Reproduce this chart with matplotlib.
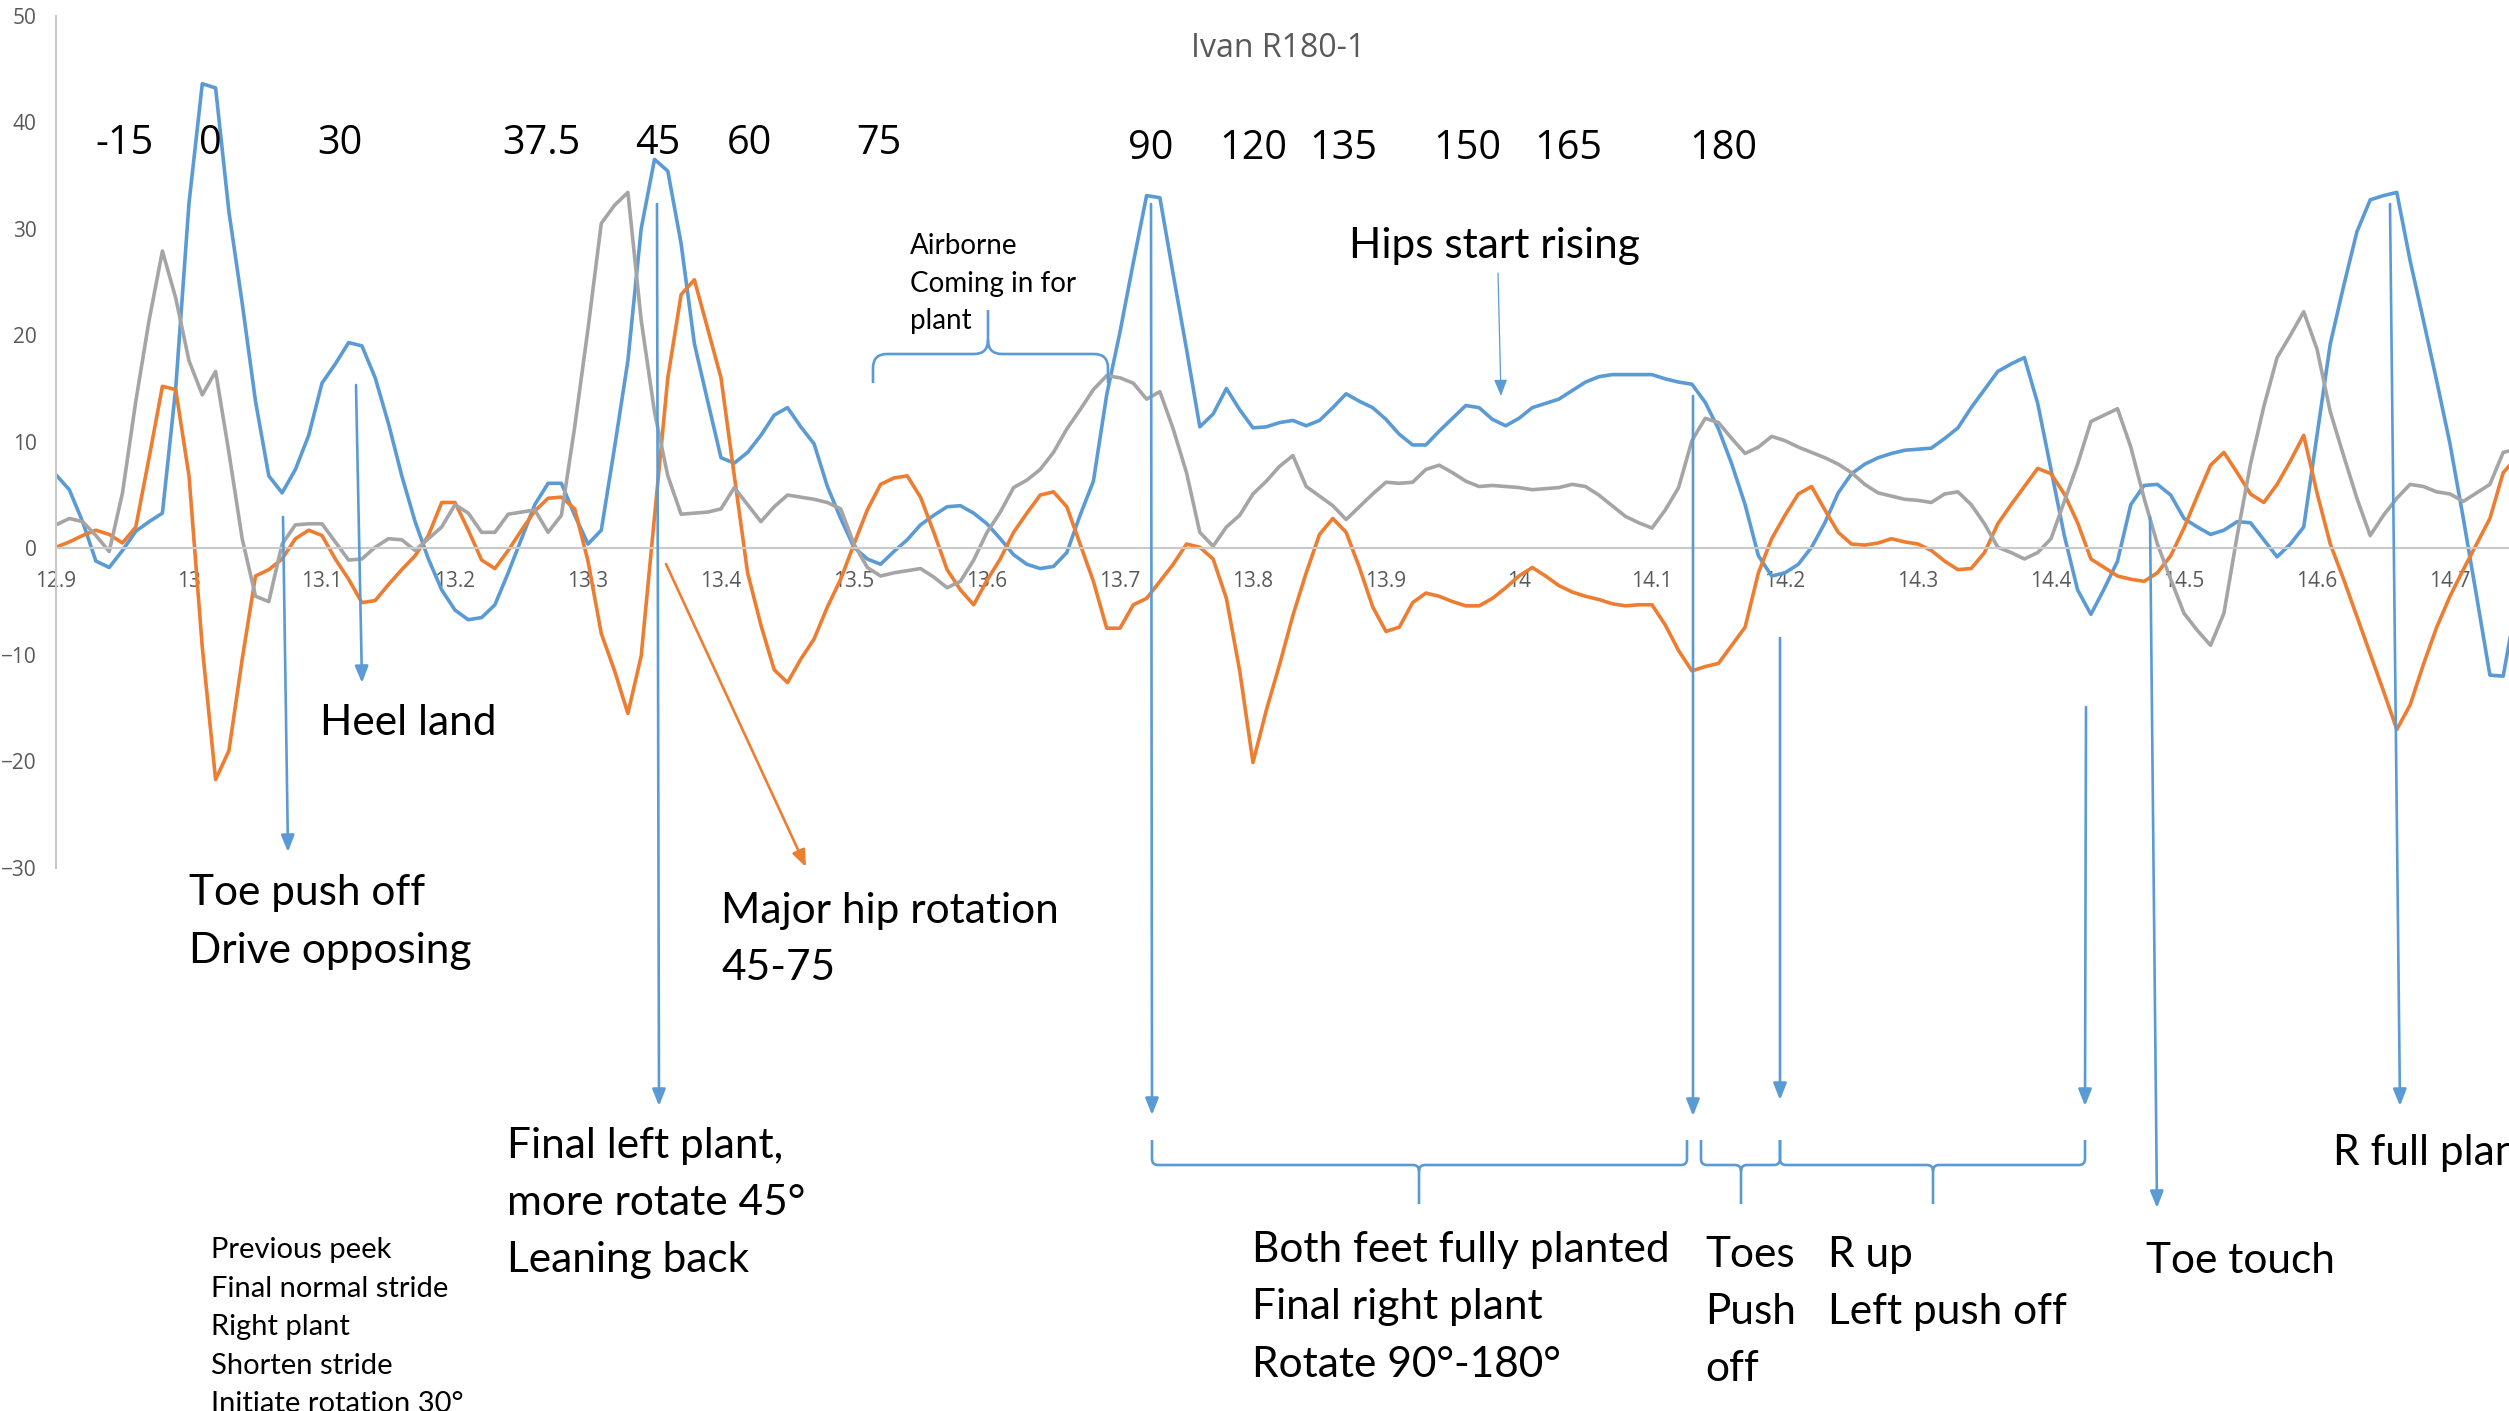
import numpy as np
import matplotlib
matplotlib.use('Agg')
import matplotlib.pyplot as plt
from matplotlib.patches import FancyArrowPatch, PathPatch
from matplotlib.path import Path
from matplotlib.ticker import FuncFormatter

plt.rcParams['font.family'] = ['Open Sans', 'DejaVu Sans']

# sample times, 100 Hz
t = np.round(np.arange(12.90, 14.755, 0.01), 2)

blue = [
    6.9, 5.5, 2.5, -1.2, -1.8, -0.2, 1.6, 2.5, 3.3, 15.0,
    32.4, 43.6, 43.2, 31.6, 23.0, 13.8, 6.8, 5.2, 7.4, 10.6,
    15.5, 17.3, 19.3, 19.0, 16.0, 11.7, 6.8, 2.5, -1.0, -3.9,
    -5.8, -6.7, -6.5, -5.3, -2.3, 0.9, 4.1, 6.1, 6.1, 3.1,
    0.4, 1.7, 9.5, 17.6, 30.0, 36.5, 35.4, 28.6, 19.2, 13.8,
    8.5, 8.0, 9.0, 10.6, 12.5, 13.2, 11.4, 9.8, 5.8, 2.8,
    0.1, -1.0, -1.5, -0.3, 0.8, 2.2, 3.1, 3.9, 4.0, 3.3,
    2.3, 0.9, -0.6, -1.5, -1.9, -1.7, -0.4, 3.1, 6.3, 14.4,
    20.3, 26.8, 33.1, 32.9, 25.7, 18.7, 11.4, 12.6, 15.0, 13.0,
    11.3, 11.4, 11.8, 12.0, 11.5, 12.0, 13.2, 14.5, 13.8, 13.2,
    12.1, 10.7, 9.7, 9.7, 11.0, 12.2, 13.4, 13.2, 12.1, 11.5,
    12.2, 13.2, 13.6, 14.0, 14.8, 15.6, 16.1, 16.3, 16.3, 16.3,
    16.3, 15.9, 15.6, 15.4, 13.7, 11.2, 7.9, 4.1, -0.7, -2.6,
    -2.3, -1.5, 0.1, 2.4, 5.2, 7.0, 7.9, 8.5, 8.9, 9.2,
    9.3, 9.4, 10.3, 11.3, 13.2, 14.9, 16.6, 17.3, 17.9, 13.6,
    7.4, 1.2, -3.9, -6.2, -3.8, -1.2, 4.1, 5.9, 6.0, 5.0,
    2.8, 2.0, 1.3, 1.7, 2.5, 2.4, 0.8, -0.8, 0.4, 2.0,
    10.6, 19.2, 24.6, 29.7, 32.7, 33.1, 33.4, 27.0, 21.4, 15.7,
    9.8, 2.8, -4.5, -11.9, -12.0, -5.0,
]

orange = [
    0.1, 0.6, 1.2, 1.7, 1.3, 0.5, 2.0, 8.5, 15.2, 14.9,
    6.8, -9.3, -21.7, -19.0, -10.4, -2.6, -2.0, -1.0, 0.9, 1.7,
    1.2, -1.0, -2.9, -5.1, -4.9, -3.4, -2.0, -0.7, 1.2, 4.3,
    4.3, 1.7, -1.1, -1.9, -0.2, 1.7, 3.5, 4.7, 4.8, 3.7,
    -1.2, -8.0, -11.5, -15.5, -10.1, 3.0, 16.0, 23.8, 25.2, 20.6,
    16.0, 6.8, -2.3, -7.2, -11.4, -12.6, -10.4, -8.5, -5.5, -2.9,
    0.4, 3.6, 6.0, 6.6, 6.8, 4.8, 1.5, -2.0, -3.9, -5.3,
    -3.0, -1.0, 1.5, 3.3, 5.0, 5.3, 3.9, 0.4, -3.1, -7.5,
    -7.5, -5.3, -4.7, -3.1, -1.5, 0.4, 0.1, -1.0, -4.7, -11.5,
    -20.1, -15.2, -10.9, -6.3, -2.3, 1.3, 2.8, 1.5, -1.8, -5.5,
    -7.8, -7.4, -5.1, -4.2, -4.5, -5.0, -5.4, -5.4, -4.7, -3.7,
    -2.6, -1.8, -2.6, -3.5, -4.1, -4.5, -4.8, -5.2, -5.4, -5.3,
    -5.3, -7.2, -9.6, -11.5, -11.1, -10.8, -9.1, -7.4, -2.3, 0.9,
    3.1, 5.1, 5.8, 3.6, 1.5, 0.4, 0.3, 0.5, 0.9, 0.6,
    0.4, -0.2, -1.2, -2.0, -1.9, -0.4, 2.3, 4.1, 5.8, 7.5,
    7.0, 5.1, 2.4, -1.0, -1.8, -2.6, -2.9, -3.1, -2.3, -0.7,
    1.9, 4.9, 7.8, 9.0, 7.1, 5.1, 4.3, 6.0, 8.2, 10.6,
    5.2, 0.4, -2.9, -6.4, -9.9, -13.4, -17.0, -14.7, -10.9, -7.4,
    -4.5, -2.0, 0.4, 2.8, 7.1, 8.5,
]

gray = [
    2.2, 2.8, 2.5, 1.2, -0.3, 5.2, 13.8, 21.4, 27.9, 23.5,
    17.6, 14.4, 16.6, 9.0, 0.9, -4.5, -5.0, 0.4, 2.2, 2.3,
    2.3, 0.6, -1.1, -1.0, 0.1, 0.9, 0.8, -0.2, 0.9, 2.0,
    4.1, 3.3, 1.5, 1.5, 3.2, 3.4, 3.6, 1.5, 3.1, 11.4,
    20.6, 30.5, 32.2, 33.4, 21.4, 12.8, 6.8, 3.2, 3.3, 3.4,
    3.7, 5.7, 4.1, 2.5, 3.9, 5.0, 4.8, 4.6, 4.3, 3.7,
    0.4, -1.8, -2.6, -2.3, -2.1, -1.9, -2.7, -3.7, -3.1, -1.1,
    1.5, 3.4, 5.7, 6.4, 7.4, 9.0, 11.2, 13.0, 14.9, 16.2,
    16.0, 15.5, 14.0, 14.7, 11.2, 7.1, 1.5, 0.2, 2.0, 3.1,
    5.1, 6.3, 7.7, 8.7, 5.8, 4.9, 4.0, 2.7, 3.9, 5.1,
    6.2, 6.1, 6.2, 7.4, 7.8, 7.1, 6.3, 5.8, 5.9, 5.8,
    5.7, 5.5, 5.6, 5.7, 6.0, 5.8, 5.0, 4.0, 3.0, 2.4,
    1.9, 3.6, 5.7, 10.1, 12.2, 11.8, 10.3, 8.9, 9.5, 10.5,
    10.1, 9.5, 9.0, 8.5, 7.9, 7.1, 6.0, 5.2, 4.9, 4.6,
    4.5, 4.3, 5.1, 5.3, 4.1, 2.3, 0.1, -0.4, -1.0, -0.4,
    0.9, 4.4, 7.9, 11.9, 12.5, 13.1, 9.5, 4.7, 0.4, -2.9,
    -6.1, -7.7, -9.1, -6.1, 1.2, 7.9, 13.3, 17.9, 20.0, 22.2,
    18.7, 12.8, 8.7, 4.7, 1.2, 3.1, 4.7, 6.0, 5.8, 5.3,
    5.1, 4.4, 5.2, 6.0, 9.0, 9.3,
]

# rotation angle markers along the top
angle_labels = ['-15', '0', '30', '37.5', '45', '60', '75',
                '90', '120', '135', '150', '165', '180']

BLUE = '#5B9BD5'
ORANGE = '#ED7D31'
GRAY = '#A5A5A5'
AXIS = '#C9C9C9'
TICK = '#595959'

W, H = 2509, 1411
fig = plt.figure(figsize=(W / 100, H / 100), dpi=100)


def fx(x):
    return x / W


def fy(y):
    return 1 - y / H


# plot area starts at 12.9 and runs past the right edge of the canvas
ax = fig.add_axes([fx(56), fy(868), 2 * 1330 / W, (868 - 15.5) / H])
ax.plot(t, blue, color=BLUE, lw=2.6, solid_joinstyle='round')
ax.plot(t, orange, color=ORANGE, lw=2.6, solid_joinstyle='round')
ax.plot(t, gray, color=GRAY, lw=2.6, solid_joinstyle='round')
ax.set_xlim(12.9, 14.9)
ax.set_ylim(-30, 50)
ax.set_xticks(np.round(np.arange(12.9, 14.75, 0.1), 1))
ax.set_yticks(np.arange(-30, 51, 10))
ax.xaxis.set_major_formatter(FuncFormatter(lambda v, _: f'{round(v, 1):g}'))
for side in ('top', 'right'):
    ax.spines[side].set_visible(False)
ax.spines['bottom'].set_position(('data', 0))
for side in ('left', 'bottom'):
    ax.spines[side].set_color(AXIS)
    ax.spines[side].set_linewidth(1.5)
ax.tick_params(length=0, labelsize=15, labelcolor=TICK)
ax.tick_params(axis='x', pad=16)
ax.tick_params(axis='y', pad=14)
ax.patch.set_alpha(0)

fig.text(fx(1278), fy(57), 'Ivan R180-1', fontsize=23, color=TICK,
         ha='center', va='baseline')

angle_x = [125, 210, 340, 541, 658, 749, 879, 1151, 1253, 1343, 1467, 1568, 1723]
for i, (lab, x) in enumerate(zip(angle_labels, angle_x)):
    base = 154 if i < 7 else 159
    fig.text(fx(x), fy(base), lab, fontsize=28.5, ha='center', va='baseline')


def note(x, y, s, size=30.5):
    fig.text(fx(x), fy(y), s, fontsize=size, family=['Lato', 'DejaVu Sans'],
             ha='left', va='baseline')


note(1349, 258, 'Hips start rising')
note(910, 254, 'Airborne', 20)
note(910, 292, 'Coming in for', 20)
note(910, 329, 'plant', 20)
note(320, 735, 'Heel land')
note(189, 905, 'Toe push off')
note(189, 963, 'Drive opposing')
note(721, 923, 'Major hip rotation')
note(721, 980, '45-75')
note(507, 1158, 'Final left plant,')
note(507, 1215, 'more rotate 45°')
note(507, 1272, 'Leaning back')
note(211, 1258, 'Previous peek', 21)
note(211, 1297, 'Final normal stride', 21)
note(211, 1335, 'Right plant', 21)
note(211, 1374, 'Shorten stride', 21)
note(211, 1412, 'Initiate rotation 30°', 21)
note(1252, 1262, 'Both feet fully planted')
note(1252, 1319, 'Final right plant')
note(1252, 1377, 'Rotate 90°-180°')
note(1705, 1267, 'Toes')
note(1705, 1324, 'Push')
note(1705, 1381, 'off')
note(1828, 1267, 'R up')
note(1828, 1324, 'Left push off')
note(2146, 1273, 'Toe touch')
note(2333, 1165, 'R full plant')


def arrow(x0, y0, x1, y1, color=BLUE, lw=1.9):
    fig.add_artist(FancyArrowPatch(
        (fx(x0), fy(y0)), (fx(x1), fy(y1)), transform=fig.transFigure,
        arrowstyle='-|>,head_length=0.5,head_width=0.2', mutation_scale=20,
        color=color, lw=lw, shrinkA=0, shrinkB=0, zorder=5))


arrow(283, 517, 288, 852)
arrow(356, 385, 362, 683)
arrow(657, 204, 659, 1106)
arrow(666, 564, 806, 867, color=ORANGE)
arrow(1151, 204, 1152, 1115)
arrow(1498, 273, 1501, 396, lw=0.9)
arrow(1693, 396, 1693, 1116)
arrow(1780, 638, 1780, 1100)
arrow(2086, 707, 2085, 1106)
arrow(2150, 517, 2157, 1208)
arrow(2390, 204, 2400, 1106)


def brace(xa, xb, yh, ye, xm, yt, r):
    de = np.sign(ye - yh)
    dt = np.sign(yt - yh)
    pts = [(xa, ye), (xa, yh + de * r), (xa, yh), (xa + r, yh),
           (xm - r, yh), (xm, yh), (xm, yh + dt * r), (xm, yt),
           (xm, yh + dt * r), (xm, yh), (xm + r, yh),
           (xb - r, yh), (xb, yh), (xb, yh + de * r), (xb, ye)]
    codes = [Path.MOVETO, Path.LINETO, Path.CURVE3, Path.CURVE3,
             Path.LINETO, Path.CURVE3, Path.CURVE3, Path.LINETO,
             Path.MOVETO, Path.CURVE3, Path.CURVE3,
             Path.LINETO, Path.CURVE3, Path.CURVE3, Path.LINETO]
    verts = [(fx(x), fy(y)) for x, y in pts]
    fig.add_artist(PathPatch(Path(verts, codes), transform=fig.transFigure,
                             fill=False, edgecolor=BLUE, lw=1.9, zorder=5))


brace(873, 1108, 354, 383, 988, 310, 14)
brace(1152, 1687, 1165, 1140, 1419, 1204, 6)
brace(1701, 1780, 1165, 1140, 1741, 1204, 6)
brace(1780, 2085, 1165, 1140, 1933, 1204, 6)

fig.savefig('out.png', dpi=100)
